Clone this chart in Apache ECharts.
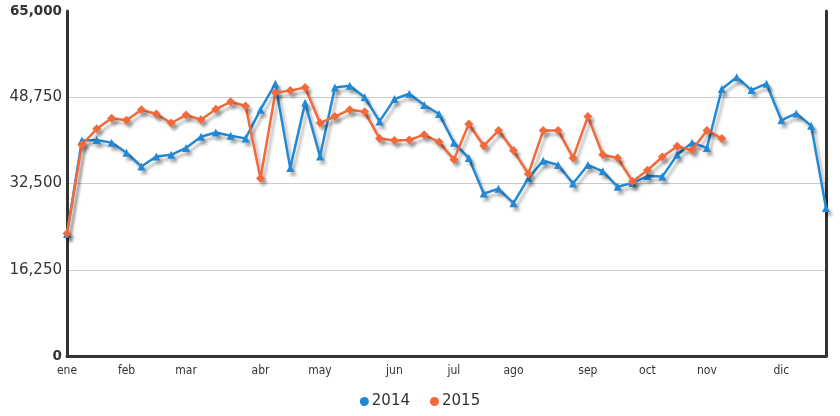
<!DOCTYPE html>
<html>
<head>
<meta charset="utf-8">
<script src="https://cdn.jsdelivr.net/npm/echarts@6/dist/echarts.min.js"></script>
<style>
html,body{margin:0;padding:0;background:#fff;}
#chart{width:840px;height:416px;}
</style>
</head>
<body>
<div id="chart"></div>
<script>
// Weekly categories (52 weeks)
const weeks = ['S1','S2','S3','S4','S5','S6','S7','S8','S9','S10','S11','S12','S13','S14','S15','S16','S17','S18','S19','S20','S21','S22','S23','S24','S25','S26','S27','S28','S29','S30','S31','S32','S33','S34','S35','S36','S37','S38','S39','S40','S41','S42','S43','S44','S45','S46','S47','S48','S49','S50','S51','S52'];
const monthNames = ['ene','feb','mar','abr','may','jun','jul','ago','sep','oct','nov','dic'];
const monthStartWeek = [0,4,8,13,17,22,26,30,35,39,43,48];
const yTicks = [0,16250,32500,48750,65000];

const series2014 = [23000,40600,40700,40200,38300,35700,37600,37900,39200,41300,42100,41500,41000,46400,51300,35400,47700,37600,50600,50900,48750,44200,48400,49400,47300,45600,40200,37300,30600,31500,28800,33500,36800,36000,32500,36000,34800,31900,32600,33900,33800,37900,40200,39200,50300,52500,50100,51300,44400,45700,43400,27900];
const series2015 = [23100,39800,42800,44800,44400,46400,45600,43900,45400,44500,46500,47900,47100,33500,49600,50000,50600,43900,45100,46400,46000,41000,40600,40700,41700,40300,37000,43700,39600,42500,38700,34300,42500,42500,37300,45100,37900,37300,32900,35000,37500,39500,38800,42500,41000];

const fmt = v => v.toString().replace(/\B(?=(\d{3})+(?!\d))/g, ',');

const chart = echarts.init(document.getElementById('chart'));
const shadow = {shadowColor:'rgba(0,0,0,0.28)', shadowBlur:3, shadowOffsetX:3, shadowOffsetY:4};
chart.setOption({
  animation:false,
  grid:{left:67, right:14, top:11, bottom:60, containLabel:false},
  legend:{
    data:['2014','2015'], bottom:2, left:'center', icon:'circle', itemWidth:9, itemHeight:9, itemGap:20,
    textStyle:{fontFamily:'DejaVu Sans', fontSize:15, color:'#333', padding:[0,0,0,-2]}
  },
  xAxis:{
    type:'category', data:weeks, boundaryGap:false,
    axisLine:{lineStyle:{color:'#333', width:3}},
    axisTick:{show:false},
    axisLabel:{
      interval:(idx)=>monthStartWeek.includes(idx),
      formatter:(v, idx)=>{const k = monthStartWeek.indexOf(idx); return k>=0 ? monthNames[k] : '';},
      fontFamily:'DejaVu Sans Condensed, DejaVu Sans', fontSize:12, color:'#333', margin:9
    },
    splitLine:{show:false}
  },
  yAxis:[{
    type:'value', min:yTicks[0], max:yTicks[yTicks.length-1], interval:yTicks[1]-yTicks[0],
    axisLine:{show:true, lineStyle:{color:'#333', width:3}},
    axisTick:{show:false},
    axisLabel:{
      fontFamily:'DejaVu Sans', fontSize:15, color:'#333', margin:5,
      formatter:(v)=> (v===yTicks[0] || v===yTicks[yTicks.length-1]) ? '{b|'+fmt(v)+'}' : fmt(v),
      rich:{b:{fontWeight:'bold', fontFamily:'DejaVu Sans', fontSize:13.5, color:'#333'}}
    },
    splitLine:{show:true, showMinLine:false, showMaxLine:false, lineStyle:{color:'#cccccc', width:1}}
  },{
    type:'value', position:'right', min:yTicks[0], max:yTicks[yTicks.length-1], interval:yTicks[1]-yTicks[0],
    axisLine:{show:true, lineStyle:{color:'#333', width:3}},
    axisTick:{show:false}, axisLabel:{show:false}, splitLine:{show:false}
  }],
  series:[{
    name:'2014', type:'line', data:series2014, symbol:'triangle', symbolSize:8, showAllSymbol:true,
    color:'#2189d6',
    lineStyle:Object.assign({width:2.5, color:'#2189d6'}, shadow),
    itemStyle:Object.assign({color:'#2189d6'}, shadow),
    z:2
  },{
    name:'2015', type:'line', data:series2015, symbol:'diamond', symbolSize:9, showAllSymbol:true,
    color:'#f26a3b',
    lineStyle:Object.assign({width:2.5, color:'#f26a3b'}, shadow),
    itemStyle:Object.assign({color:'#f26a3b'}, shadow),
    z:3
  }]
});
</script>
</body>
</html>
